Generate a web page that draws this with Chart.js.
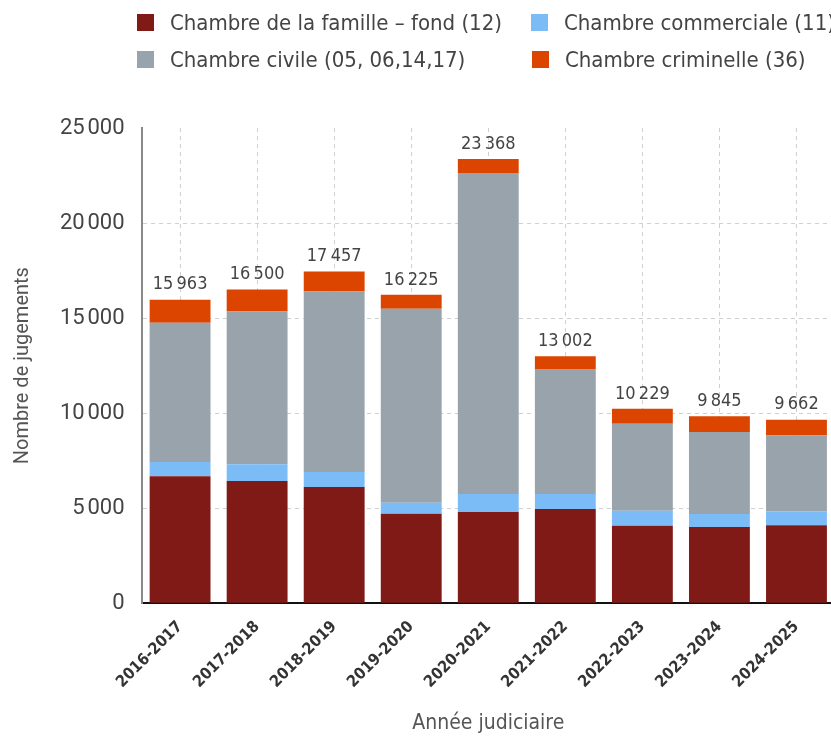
<!DOCTYPE html>
<html>
<head>
<meta charset="utf-8">
<script src="https://cdn.jsdelivr.net/npm/chart.js@4.4.1/dist/chart.umd.min.js"></script>
<style>
  html, body { margin: 0; padding: 0; background: #fff; overflow: hidden; }
  #wrap { position: relative; width: 845px; height: 736px; }
  #legend { position: absolute; left: 0; top: 0; width: 845px; height: 90px;
            font-family: "DejaVu Sans Condensed", sans-serif; font-size: 22px; color: #444; }
  .item { position: absolute; white-space: nowrap; line-height: 24px; }
  .item span.box { display: inline-block; width: 17px; height: 17px; margin-right: 16px; vertical-align: -1px; }
</style>
</head>
<body>
<div id="wrap">
  <div id="legend"></div>
  <canvas id="myChart" width="845" height="736"></canvas>
</div>
<script>
var years = ["2016-2017", "2017-2018", "2018-2019", "2019-2020", "2020-2021",
             "2021-2022", "2022-2023", "2023-2024", "2024-2025"];

// Chambre de la famille - fond (12)
var famille = [6690, 6430, 6115, 4706, 4810, 4965, 4076, 4018, 4110];
// Chambre commerciale (11)
var commerciale = [740, 890, 790, 579, 945, 789, 789, 682, 732];
// Chambre civile (05, 06,14,17)
var civile = [7330, 8025, 9500, 10204, 16877, 6565, 4575, 4305, 3980];
// Chambre criminelle (36)
var criminelle = [1203, 1155, 1052, 736, 736, 683, 789, 840, 840];

var yTicks = [0, 5000, 10000, 15000, 20000, 25000];

var labelFont = '"DejaVu Sans Condensed", sans-serif';

function fmt (n) {
    return String(n).replace(/\B(?=(\d{3})+(?!\d))/g, '\u202f');
}

var totalsPlugin = {
    id: 'totals',
    afterDatasetsDraw: function (chart) {
        var ctx = chart.ctx;
        var top = chart.getDatasetMeta(chart.data.datasets.length - 1);
        ctx.save();
        ctx.font = '18px ' + labelFont;
        ctx.fillStyle = '#444';
        ctx.textAlign = 'center';
        ctx.textBaseline = 'bottom';
        years.forEach(function (y, i) {
            var total = famille[i] + commerciale[i] + civile[i] + criminelle[i];
            var el = top.data[i];
            ctx.fillText(fmt(total), el.x, el.y - 6);
        });
        ctx.restore();
    }
};

var config = {
    type: 'bar',
    data: {
        labels: years,
        datasets: [
            { label: 'Chambre de la famille \u2013 fond (12)', data: famille, backgroundColor: '#7f1a16' },
            { label: 'Chambre commerciale (11)', data: commerciale, backgroundColor: '#7bbcf6' },
            { label: 'Chambre civile (05, 06,14,17)', data: civile, backgroundColor: '#99a3ab' },
            { label: 'Chambre criminelle (36)', data: criminelle, backgroundColor: '#dc4500' }
        ]
    },
    options: {
        responsive: false,
        animation: false,
        layout: { padding: { top: 128, right: 10, left: 11, bottom: 0 } },
        datasets: { bar: { barPercentage: 0.79, categoryPercentage: 1.0 } },
        plugins: {
            legend: { display: false },
            tooltip: { enabled: false }
        },
        scales: {
            x: {
                stacked: true,
                grid: { offset: false, color: '#d0d0d0', drawTicks: false },
                border: { color: '#111', width: 2, dash: [4, 4] },
                ticks: {
                    color: '#333', padding: 14, maxRotation: 45, minRotation: 45,
                    font: { family: labelFont, size: 16, weight: 'bold' }
                },
                title: {
                    display: true, text: 'Année judiciaire', color: '#555',
                    font: { family: labelFont, size: 21 }, padding: { top: 5, bottom: 0 }
                }
            },
            y: {
                stacked: true,
                min: 0, max: 25000,
                afterBuildTicks: function (axis) {
                    axis.ticks = yTicks.map(function (v) { return { value: v }; });
                },
                grid: {
                    drawTicks: false,
                    color: function (c) { return c.tick && c.tick.value === 25000 ? 'rgba(0,0,0,0)' : '#d0d0d0'; }
                },
                border: { color: '#888', width: 2, dash: [4, 4] },
                ticks: {
                    color: '#444', padding: 17,
                    font: { family: 'Roboto', size: 22 },
                    callback: function (v) { return fmt(v); }
                },
                title: {
                    display: true, text: 'Nombre de jugements', color: '#555',
                    font: { family: 'Roboto', size: 20 }, padding: { top: 0, bottom: 8 }
                }
            }
        }
    },
    plugins: [totalsPlugin]
};

function buildLegend (chart) {
    var pos = [[137, 11], [531, 11], [137, 48], [532, 48]];
    var html = '';
    chart.data.datasets.forEach(function (ds, k) {
        html += '<div class="item" style="left:' + pos[k][0] + 'px;top:' + pos[k][1] + 'px">' +
                '<span class="box" style="background:' + ds.backgroundColor + '"></span>' + ds.label + '</div>';
    });
    document.getElementById('legend').innerHTML = html;
}

var ctx1 = document.getElementById('myChart').getContext('2d');
window.myChart = new Chart(ctx1, config);
buildLegend(window.myChart);
</script>
</body>
</html>
